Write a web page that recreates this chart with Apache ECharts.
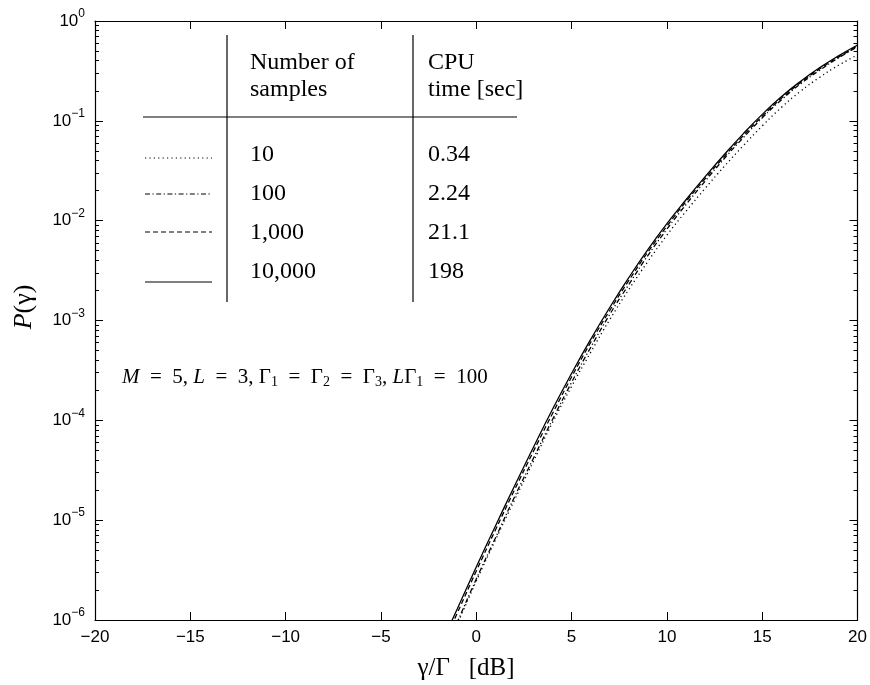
<!DOCTYPE html>
<html><head><meta charset="utf-8">
<script src="https://cdn.jsdelivr.net/npm/echarts@6/dist/echarts.min.js"></script>
<style>html,body{margin:0;padding:0;background:#fff}#c{width:870px;height:685px}</style>
</head><body><div id="c"></div>
<script>
// gamma/Gamma in dB
const xsDb = [-2,-1,0,1,2,3,4,5,6,7,8,9,10,11,12,13,14,15,16,17,18,19,20];
// P(gamma) for each number of samples
const p10 = [3.5e-7,9.1e-7,2.45e-6,6.3e-6,1.58e-5,3.89e-5,9.5e-5,2.19e-4,4.79e-4,1.02e-3,2.04e-3,3.89e-3,7.16e-3,1.24e-2,2.10e-2,3.48e-2,5.62e-2,8.9e-2,0.136,0.197,0.272,0.360,0.457];
const p100 = [3.6e-7,9.5e-7,2.57e-6,6.6e-6,1.70e-5,4.17e-5,1.02e-4,2.40e-4,5.37e-4,1.15e-3,2.29e-3,4.47e-3,8.22e-3,1.45e-2,2.48e-2,4.17e-2,6.76e-2,0.107,0.162,0.234,0.320,0.427,0.550];
const p1000 = [4.47e-7,1.17e-6,3.09e-6,7.94e-6,2.0e-5,4.9e-5,1.17e-4,2.72e-4,6.03e-4,1.26e-3,2.51e-3,4.84e-3,8.81e-3,1.55e-2,2.63e-2,4.37e-2,7.08e-2,0.111,0.168,0.241,0.330,0.435,0.561];
const p10000 = [4.9e-7,1.29e-6,3.39e-6,8.71e-6,2.19e-5,5.37e-5,1.29e-4,2.95e-4,6.46e-4,1.35e-3,2.69e-3,5.13e-3,9.33e-3,1.62e-2,2.75e-2,4.57e-2,7.41e-2,0.116,0.174,0.248,0.339,0.447,0.575];
const xTicks = [-20,-15,-10,-5,0,5,10,15,20];
const yMajor = [1e-6,1e-5,1e-4,1e-3,1e-2,1e-1,1];
const yExp = {'0.000001':'−6','0.00001':'−5','0.0001':'−4','0.001':'−3','0.01':'−2','0.1':'−1','1':'0'};
const tableSamples = ['10','100','1,000','10,000'];
const tableCpu = ['0.34','2.24','21.1','198'];

const yMinor = [];
for (let e = -6; e < 0; e++) for (let m = 2; m <= 9; m++) yMinor.push(+(m * Math.pow(10, e)).toPrecision(3));

const styles = [
  {name:'10', data:p10, type:[1.2,3.2]},
  {name:'100', data:p100, type:[5,2.5,1.2,2.5]},
  {name:'1000', data:p1000, type:[5,3]},
  {name:'10000', data:p10000, type:'solid'}
];

const chart = echarts.init(document.getElementById('c'), null, {renderer:'canvas'});
const serif = 'Liberation Serif';
const sans = 'Liberation Sans';
const black = '#000';
const yLabelRich = {b:{fontFamily:sans,fontSize:17,color:black}, s:{fontFamily:sans,fontSize:12,color:black,padding:[0,0,14,0]}};

function yAx(pos, vals, len, labels, line){
  return {type:'log', logBase:10, min:1e-6, max:1, position:pos,
    axisLine:{show: line, onZero:false, lineStyle:{color:black,width:1.2}},
    splitLine:{show:false},
    axisTick:{show:true, inside:true, length:len, customValues:vals, lineStyle:{color:black,width:1}},
    axisLabel:{show:labels, customValues: labels ? yMajor : undefined, margin:10,
      formatter:function(v){ const k = String(+v); return '{b|10}{s|' + (yExp[k] || '') + '}'; },
      rich:yLabelRich}
  };
}

const legendY = [158,194,232,282];
const graphics = [];
// table lines
graphics.push({type:'line', shape:{x1:227,y1:35,x2:227,y2:302}, style:{stroke:black,lineWidth:1.2}});
graphics.push({type:'line', shape:{x1:413,y1:35,x2:413,y2:302}, style:{stroke:black,lineWidth:1.2}});
graphics.push({type:'line', shape:{x1:143,y1:117,x2:517,y2:117}, style:{stroke:black,lineWidth:1.2}});
const tFont = '24px "' + serif + '"';
function txt(x,y,t,extra){ return Object.assign({type:'text', x:x, y:y, style:{text:t, font:tFont, fill:black, verticalAlign:'middle', align:'left'}}, extra||{}); }
graphics.push(txt(250,63,'Number of'));
graphics.push(txt(250,90,'samples'));
graphics.push(txt(428,63,'CPU'));
graphics.push(txt(428,90,'time [sec]'));
const rowY = [155,194,233,272];
tableSamples.forEach((s,i)=>{
  graphics.push(txt(250,rowY[i],s));
  graphics.push(txt(428,rowY[i],tableCpu[i]));
  graphics.push({type:'line', shape:{x1:145,y1:legendY[i],x2:212,y2:legendY[i]},
    style:{stroke:black,lineWidth:1.2,lineDash: styles[i].type==='solid'?null:styles[i].type}});
});
// annotation
const sp = '\u2002';
graphics.push({type:'text', x:122, y:377, style:{
  text:'{i|M}'+sp+'='+sp+'5, {i|L}'+sp+'='+sp+'3, Γ{sub|1}'+sp+'='+sp+'Γ{sub|2}'+sp+'='+sp+'Γ{sub|3}, {i|L}Γ{sub|1}'+sp+'='+sp+'100',
  font:'21px "' + serif + '"', fill:black, verticalAlign:'middle',
  rich:{i:{fontFamily:serif,fontStyle:'italic',fontSize:21,color:black}, sub:{fontFamily:serif,fontSize:14,color:black,padding:[10,0,0,0]}}
}});
// x axis title
graphics.push({type:'text', x:466, y:668, style:{text:'γ/Γ'+sp+' [dB]', font:'25px "' + serif + '"', fill:black, align:'center', verticalAlign:'middle'}});
// y axis title
graphics.push({type:'text', x:24, y:307, rotation:Math.PI/2, style:{
  text:'{i|P}(γ)', font:'26px "' + serif + '"', fill:black, align:'center', verticalAlign:'middle',
  rich:{i:{fontFamily:serif,fontStyle:'italic',fontSize:26,color:black}}}});

chart.setOption({
  animation:false,
  backgroundColor:'#fff',
  grid:{left:95, right:11, top:21, bottom:65, containLabel:false},
  xAxis:[
    {type:'value', min:-20, max:20, interval:5, position:'bottom',
      axisLine:{onZero:false,lineStyle:{color:black,width:1.2}}, splitLine:{show:false},
      axisTick:{inside:true,length:8,lineStyle:{color:black}},
      axisLabel:{color:black,fontFamily:sans,fontSize:17,margin:9,
        formatter:v=>(v<0?'−'+(-v):String(v))}},
    {type:'value', min:-20, max:20, interval:5, position:'top',
      axisLine:{onZero:false,lineStyle:{color:black,width:1.2}}, splitLine:{show:false},
      axisTick:{inside:true,length:8,lineStyle:{color:black}}, axisLabel:{show:false}}
  ],
  yAxis:[
    yAx('left', yMajor, 8, true, true),
    yAx('left', yMinor, 4, false, false),
    yAx('right', yMajor, 8, false, true),
    yAx('right', yMinor, 4, false, false)
  ],
  series: styles.map(s=>({
    type:'line', name:s.name, xAxisIndex:0, yAxisIndex:0, showSymbol:false, symbol:'none',
    smooth:0.5, clip:true,
    data: xsDb.map((x,i)=>[x, s.data[i]]),
    lineStyle:{color:black, width:1.3, type:s.type}
  })),
  graphic: graphics
});
</script></body></html>
